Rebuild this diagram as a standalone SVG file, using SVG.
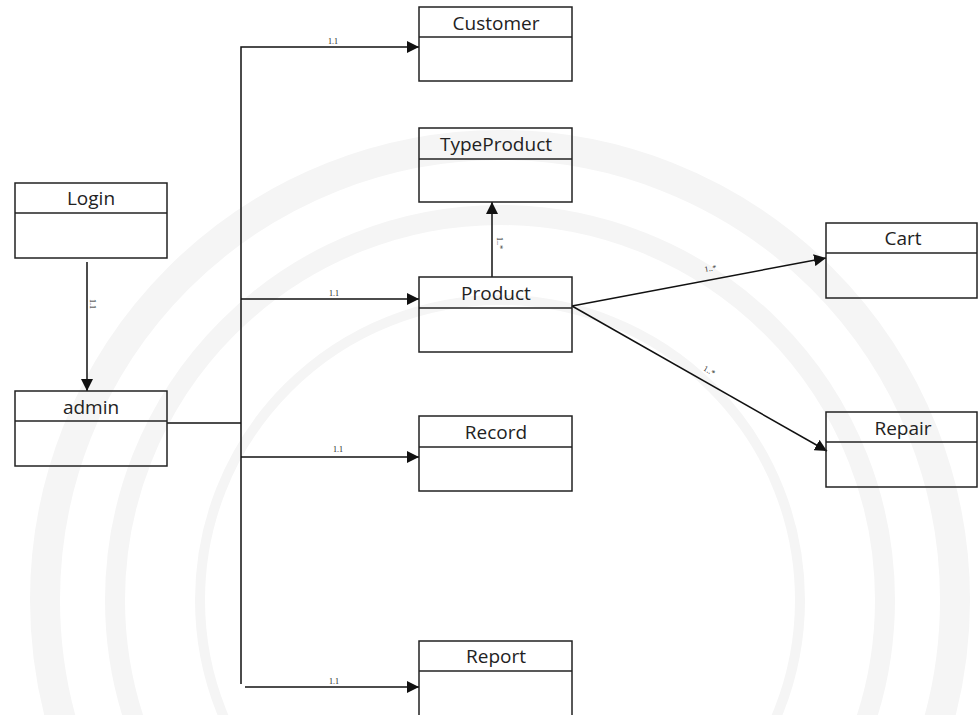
<svg xmlns="http://www.w3.org/2000/svg" width="978" height="715" viewBox="0 0 978 715">
  <defs>
    <marker id="arr" viewBox="0 0 10 10" refX="10" refY="5" markerWidth="12" markerHeight="12" markerUnits="userSpaceOnUse" orient="auto">
      <path d="M0,0 L10,5 L0,10 Z" fill="#111"/>
    </marker>
    <style>
      .box { fill: none; stroke: #222; stroke-width: 1.5; }
      .name { font-family: "Open Sans", "Liberation Sans", sans-serif; font-size: 19px; fill: #222; text-anchor: middle; }
      .lbl { font-family: "Liberation Serif", serif; font-size: 8px; fill: #222; text-anchor: middle; }
      .conn { fill: none; stroke: #111; stroke-width: 1.5; }
      .wm { fill: none; stroke: #f5f5f5; }
    </style>
  </defs>
  <rect x="0" y="0" width="978" height="715" fill="#ffffff"/>
  <g id="watermark">
    <circle class="wm" cx="500" cy="600" r="455" stroke-width="30"/>
    <circle class="wm" cx="500" cy="600" r="385" stroke-width="20"/>
    <circle class="wm" cx="500" cy="600" r="300" stroke-width="10"/>
  </g>
  <g id="connectors">
    <path class="conn" d="M87,262 L87,391" marker-end="url(#arr)"/>
    <path class="conn" d="M167,423 L241,423"/>
    <path class="conn" d="M241,684 L241,47 L419,47" marker-end="url(#arr)"/>
    <path class="conn" d="M241,299 L419,299" marker-end="url(#arr)"/>
    <path class="conn" d="M241,457 L419,457" marker-end="url(#arr)"/>
    <path class="conn" d="M245,687 L419,687" marker-end="url(#arr)"/>
    <path class="conn" d="M492,277 L492,202" marker-end="url(#arr)"/>
    <path class="conn" d="M572,306 L826,258" marker-end="url(#arr)"/>
    <path class="conn" d="M572,306 L827,451" marker-end="url(#arr)"/>
    <text class="lbl" x="333" y="44">1.1</text>
    <text class="lbl" x="334" y="296">1.1</text>
    <text class="lbl" x="338" y="452">1.1</text>
    <text class="lbl" x="334" y="684">1.1</text>
    <text class="lbl" transform="translate(90,304) rotate(90)">1.1</text>
    <text class="lbl" transform="translate(497,243) rotate(90)">1..*</text>
    <text class="lbl" transform="translate(711,271) rotate(-10.7)">1..*</text>
    <text class="lbl" transform="translate(708,373) rotate(29.5)">1..*</text>
  </g>
  <g id="Customer">
    <rect class="box" x="419" y="7" width="153" height="74"/>
    <line class="box" x1="419" y1="37" x2="572" y2="37"/>
    <text class="name" x="496" y="30">Customer</text>
  </g>
  <g id="TypeProduct">
    <rect class="box" x="419" y="128" width="153" height="74"/>
    <line class="box" x1="419" y1="159" x2="572" y2="159"/>
    <text class="name" x="496" y="151">TypeProduct</text>
  </g>
  <g id="Product">
    <rect class="box" x="419" y="277" width="153" height="75"/>
    <line class="box" x1="419" y1="308" x2="572" y2="308"/>
    <text class="name" x="496" y="300">Product</text>
  </g>
  <g id="Record">
    <rect class="box" x="419" y="416" width="153" height="75"/>
    <line class="box" x1="419" y1="447" x2="572" y2="447"/>
    <text class="name" x="496" y="439">Record</text>
  </g>
  <g id="Report">
    <rect class="box" x="419" y="641" width="153" height="80"/>
    <line class="box" x1="419" y1="671" x2="572" y2="671"/>
    <text class="name" x="496" y="663">Report</text>
  </g>
  <g id="Login">
    <rect class="box" x="15" y="183" width="152" height="75"/>
    <line class="box" x1="15" y1="213" x2="167" y2="213"/>
    <text class="name" x="91" y="205">Login</text>
  </g>
  <g id="admin">
    <rect class="box" x="15" y="391" width="152" height="75"/>
    <line class="box" x1="15" y1="421" x2="167" y2="421"/>
    <text class="name" x="91" y="414">admin</text>
  </g>
  <g id="Cart">
    <rect class="box" x="826" y="223" width="151" height="75"/>
    <line class="box" x1="826" y1="253" x2="977" y2="253"/>
    <text class="name" x="903" y="245">Cart</text>
  </g>
  <g id="Repair">
    <rect class="box" x="826" y="412" width="151" height="75"/>
    <line class="box" x1="826" y1="442" x2="977" y2="442"/>
    <text class="name" x="903" y="435">Repair</text>
  </g>
</svg>
